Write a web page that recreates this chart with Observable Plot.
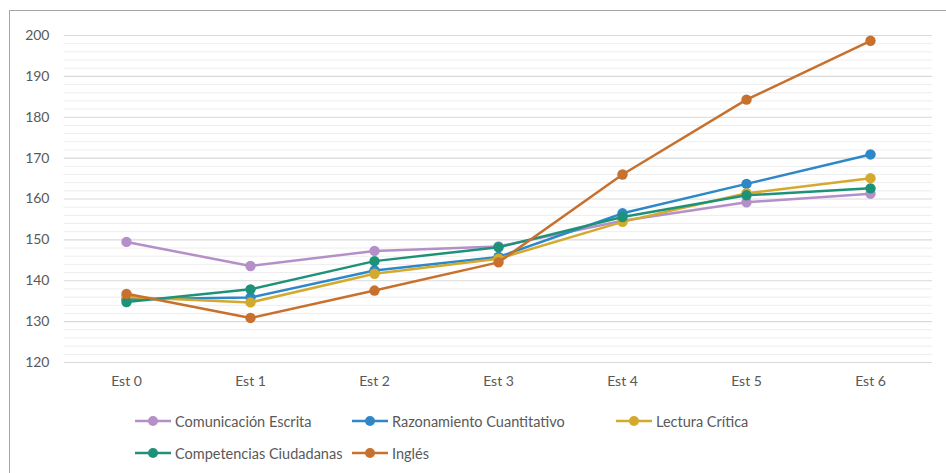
<!DOCTYPE html>
<html>
<head>
<meta charset="utf-8">
<script src="https://cdn.jsdelivr.net/npm/d3@7"></script>
<script src="https://cdn.jsdelivr.net/npm/@observablehq/plot@0.6"></script>
<style>
  html, body { margin: 0; padding: 0; background: #fff; }
  #wrap { position: relative; width: 946px; height: 473px; overflow: hidden; font-family: Lato, "Open Sans", sans-serif; color: #595959; }
  #frame { position: absolute; left: 9px; top: 10px; width: 960px; height: 480px; border: 1.5px solid #a6a6a6; box-sizing: border-box; }
  #chart { position: absolute; left: 0; top: 0; }
  #legend { position: absolute; left: 135px; top: 405px; display: grid; grid-template-columns: 217px 264px auto; grid-auto-rows: 32px; align-items: center; font-size: 14.5px; }
  .item { display: flex; align-items: center; white-space: nowrap; }
  .item svg { margin-right: 4px; }
</style>
</head>
<body>
<div id="wrap">
  <div id="frame"></div>
  <div id="chart"></div>
  <div id="legend"></div>
</div>
<script>
const categories = ["Est 0", "Est 1", "Est 2", "Est 3", "Est 4", "Est 5", "Est 6"];
const seriesNames = ["Comunicación Escrita", "Razonamiento Cuantitativo", "Lectura Crítica", "Competencias Ciudadanas", "Inglés"];
const comunicacion = [149.5, 143.6, 147.3, 148.4, 154.7, 159.2, 161.3];
const razonamiento = [135.5, 135.9, 142.5, 145.8, 156.5, 163.7, 170.9];
const lectura = [136.0, 134.7, 141.7, 145.4, 154.4, 161.4, 165.1];
const competencias = [134.8, 137.9, 144.8, 148.2, 155.6, 160.9, 162.6];
const ingles = [136.8, 130.9, 137.6, 144.5, 166.0, 184.3, 198.7];
const colors = ["#b48fc8", "#2e88c8", "#d4aa2e", "#1e9278", "#c8702e"];
const majorTicks = [120, 130, 140, 150, 160, 170, 180, 190, 200];
const minorTicks = d3.range(120, 200, 2).filter(v => v % 10 !== 0);

const allValues = [comunicacion, razonamiento, lectura, competencias, ingles];
const data = [];
seriesNames.forEach((s, i) => categories.forEach((c, j) => data.push({series: s, cat: c, value: allValues[i][j]})));

const marks = [
  Plot.ruleY(minorTicks, {stroke: "#ededed", strokeWidth: 1}),
  Plot.ruleY(majorTicks, {stroke: "#d9d9d9", strokeWidth: 1.2}),
  Plot.axisY({ticks: majorTicks, tickSize: 0, tickPadding: 15, fontSize: 14, fill: "#595959"}),
  Plot.axisX({tickSize: 0, tickPadding: 14, fontSize: 14, fill: "#595959"})
];
seriesNames.forEach((s, i) => {
  const d = data.filter(r => r.series === s);
  marks.push(Plot.line(d, {x: "cat", y: "value", stroke: colors[i], strokeWidth: 2.5}));
  marks.push(Plot.dot(d, {x: "cat", y: "value", fill: colors[i], r: 5.2}));
});

const chart = Plot.plot({
  width: 946,
  height: 400,
  marginLeft: 64,
  marginRight: 14,
  marginTop: 35,
  marginBottom: 38,
  style: {fontFamily: "Lato, 'Open Sans', sans-serif", background: "transparent", color: "#595959"},
  x: {type: "point", domain: categories, padding: 0.5, label: null},
  y: {domain: [120, 200], label: null},
  marks
});
document.getElementById("chart").appendChild(chart);

const legend = document.getElementById("legend");
seriesNames.forEach((s, i) => {
  const item = document.createElement("div");
  item.className = "item";
  item.innerHTML = `<svg width="36" height="12"><line x1="0" x2="36" y1="6" y2="6" stroke="${colors[i]}" stroke-width="2.5"/><circle cx="18" cy="6" r="5" fill="${colors[i]}"/></svg><span>${s}</span>`;
  legend.appendChild(item);
});
</script>
</body>
</html>
